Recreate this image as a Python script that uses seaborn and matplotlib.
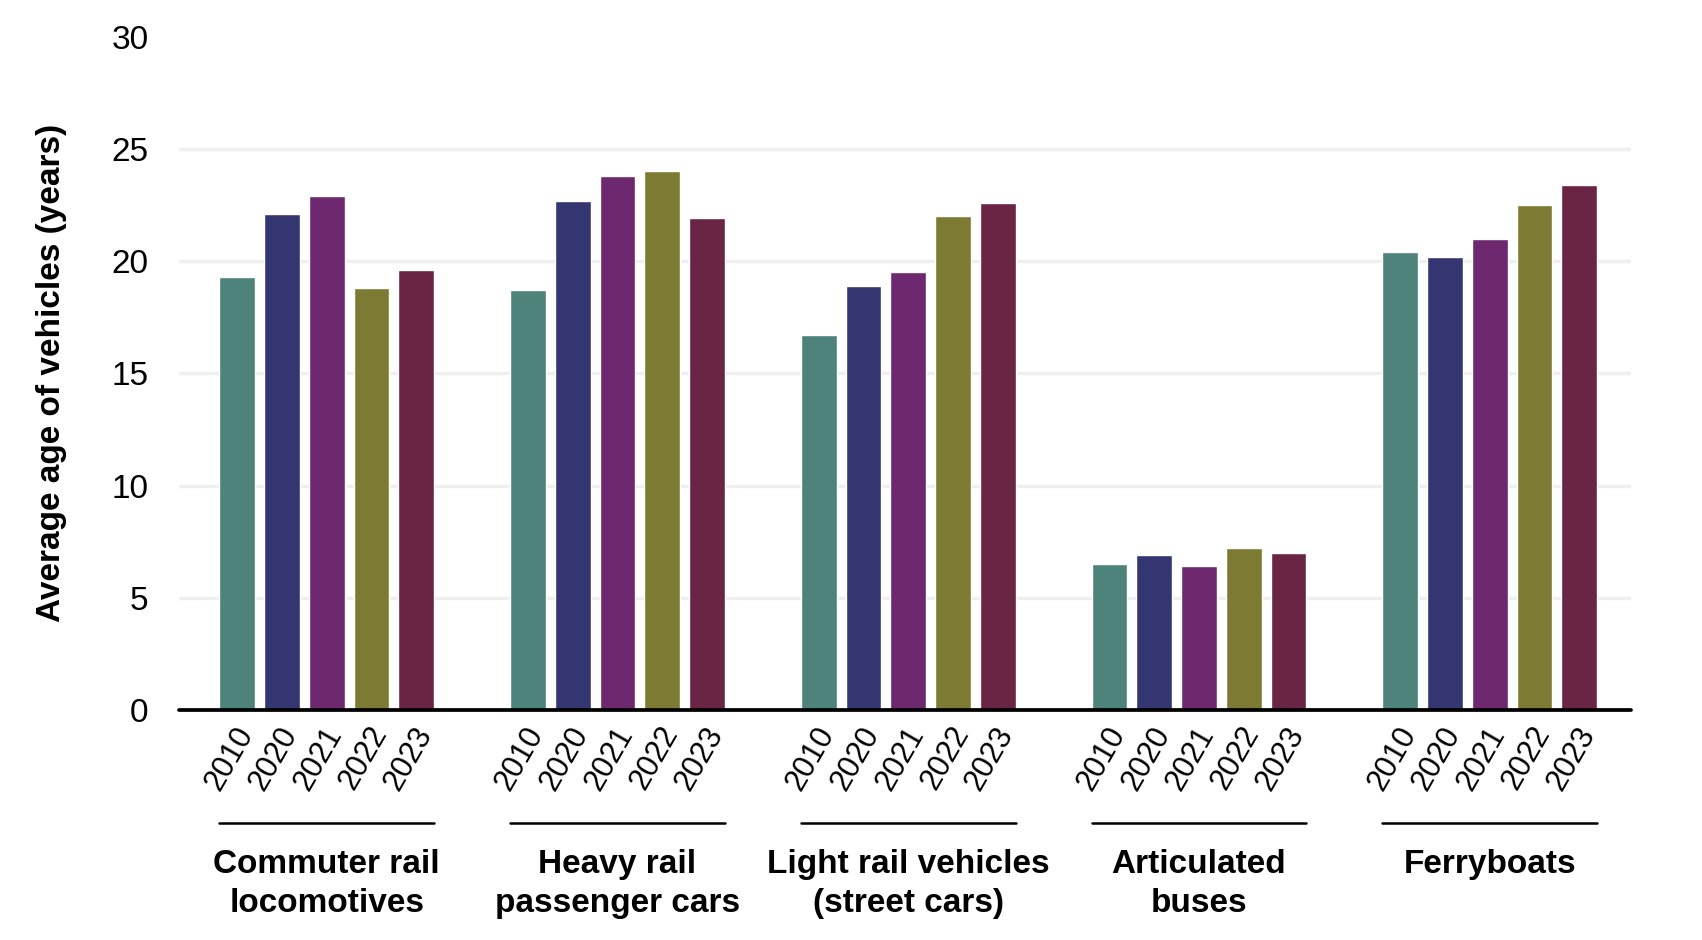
import matplotlib.pyplot as plt
import matplotlib.transforms as mtransforms
import numpy as np
import pandas as pd
import seaborn as sns

categories = ['Commuter rail\nlocomotives', 'Heavy rail\npassenger cars',
              'Light rail vehicles\n(street cars)', 'Articulated\nbuses', 'Ferryboats']
years = ['2010', '2020', '2021', '2022', '2023']
age_2010 = [19.3, 18.7, 16.7, 6.5, 20.4]
age_2020 = [22.1, 22.7, 18.9, 6.9, 20.2]
age_2021 = [22.9, 23.8, 19.5, 6.4, 21.0]
age_2022 = [18.8, 24.0, 22.0, 7.2, 22.5]
age_2023 = [19.6, 21.9, 22.6, 7.0, 23.4]

colors = ['#4e837c', '#343672', '#6e2870', '#7c7a33', '#6a2444']

ages = [age_2010, age_2020, age_2021, age_2022, age_2023]
rows = []
for yr, vals in zip(years, ages):
    for cat, v in zip(categories, vals):
        rows.append({'category': cat, 'year': yr, 'age': v})
df = pd.DataFrame(rows)

sns.set_style('white')
plt.rcParams['font.family'] = ['Liberation Sans', 'DejaVu Sans']
plt.rcParams['text.color'] = 'black'
plt.rcParams['axes.labelcolor'] = 'black'
plt.rcParams['xtick.color'] = 'black'
plt.rcParams['ytick.color'] = 'black'

fig = plt.figure(figsize=(17.02, 9.4), dpi=100)
ax = fig.add_axes([0.1052, 0.2447, 0.8531, 0.7163])

sns.barplot(data=df, x='category', y='age', hue='year', palette=colors,
            width=0.77, gap=0.2, saturation=1, legend=False, ax=ax)

ax.set_ylim(0, 30)
ax.set_xlim(-0.508, 4.486)
ax.set_yticks([0, 5, 10, 15, 20, 25, 30])
for t in [5, 10, 15, 20, 25]:
    ax.axhline(t, color='#efefef', lw=2.5, zorder=0)
ax.axhline(0, color='black', lw=2.7, zorder=3, clip_on=False)
for s in ax.spines.values():
    s.set_visible(False)

ax.tick_params(axis='y', length=0, pad=22, labelsize=24)
ax.set_ylabel('Average age of vehicles (years)', fontsize=24, fontweight='bold')
ax.yaxis.set_label_coords(-0.077, 0.5)

# year labels under every bar
bars = [p for p in ax.patches if p.get_height() > 0]
centers = sorted(p.get_x() + p.get_width() / 2 for p in bars)
ax.set_xticks(centers)
ax.set_xticklabels(years * len(categories), rotation=60, ha='right',
                   va='center', rotation_mode='anchor', fontsize=22)
ax.tick_params(axis='x', length=0, pad=13.5)
ax.set_xlabel('')
shift = mtransforms.ScaledTranslation(0.09, 0, fig.dpi_scale_trans)
for lab in ax.get_xticklabels():
    lab.set_transform(lab.get_transform() + shift)

# group underline + category name
trans = ax.get_xaxis_transform()
for i, cat in enumerate(categories):
    grp = centers[i * len(years):(i + 1) * len(years)]
    half = bars[0].get_width() / 2
    ax.plot([grp[0] - half, grp[-1] + half], [-0.168, -0.168], color='black',
            lw=1.8, transform=trans, clip_on=False)
    ax.text(i, -0.207, cat, transform=trans, ha='center', va='top',
            fontsize=24, fontweight='bold', linespacing=1.3)

fig.savefig('out.png', dpi=100)
